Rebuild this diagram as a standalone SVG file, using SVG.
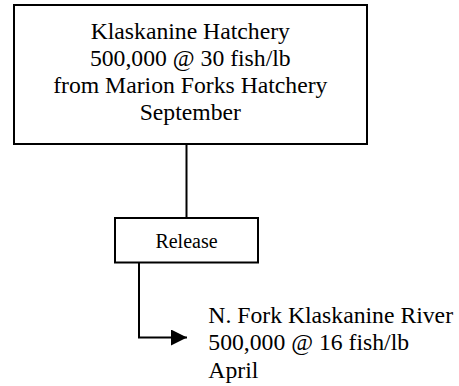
<svg xmlns="http://www.w3.org/2000/svg" width="459" height="386" viewBox="0 0 459 386">
<defs>
<style>
.box{fill:#fff;stroke:#000;stroke-width:2}
.t{font-family:"Liberation Serif","Times New Roman",serif;font-size:23.7px;fill:#000}
.s{font-size:20px}
.c{text-anchor:middle}
.ln{fill:none;stroke:#000;stroke-width:2}
</style>
<marker id="ah" markerUnits="userSpaceOnUse" markerWidth="16" markerHeight="16" refX="16" refY="8" orient="auto">
<path d="M0,0 L16,8 L0,16 Z" fill="#000"/>
</marker>
</defs>
<g id="connectors">
<line class="ln" x1="186.5" y1="144" x2="186.5" y2="218"/>
<polyline class="ln" points="139,263 139,337.5 187,337.5" marker-end="url(#ah)"/>
</g>
<g id="hatchery">
<rect class="box" x="14" y="5" width="353" height="139"/>
<text class="t c" x="190.3" y="38.5">Klaskanine Hatchery</text>
<text class="t c" x="190.3" y="65.5">500,000 @ 30 fish/lb</text>
<text class="t c" x="190.3" y="92.5">from Marion Forks Hatchery</text>
<text class="t c" x="190.3" y="119.5">September</text>
</g>
<g id="release">
<rect class="box" x="115" y="218" width="143" height="44.5"/>
<text class="t s c" x="186.5" y="248">Release</text>
</g>
<g id="river">
<text class="t" x="208.3" y="322.5">N. Fork Klaskanine River</text>
<text class="t" x="208.3" y="350">500,000 @ 16 fish/lb</text>
<text class="t" x="208.3" y="377.5">April</text>
</g>
</svg>
